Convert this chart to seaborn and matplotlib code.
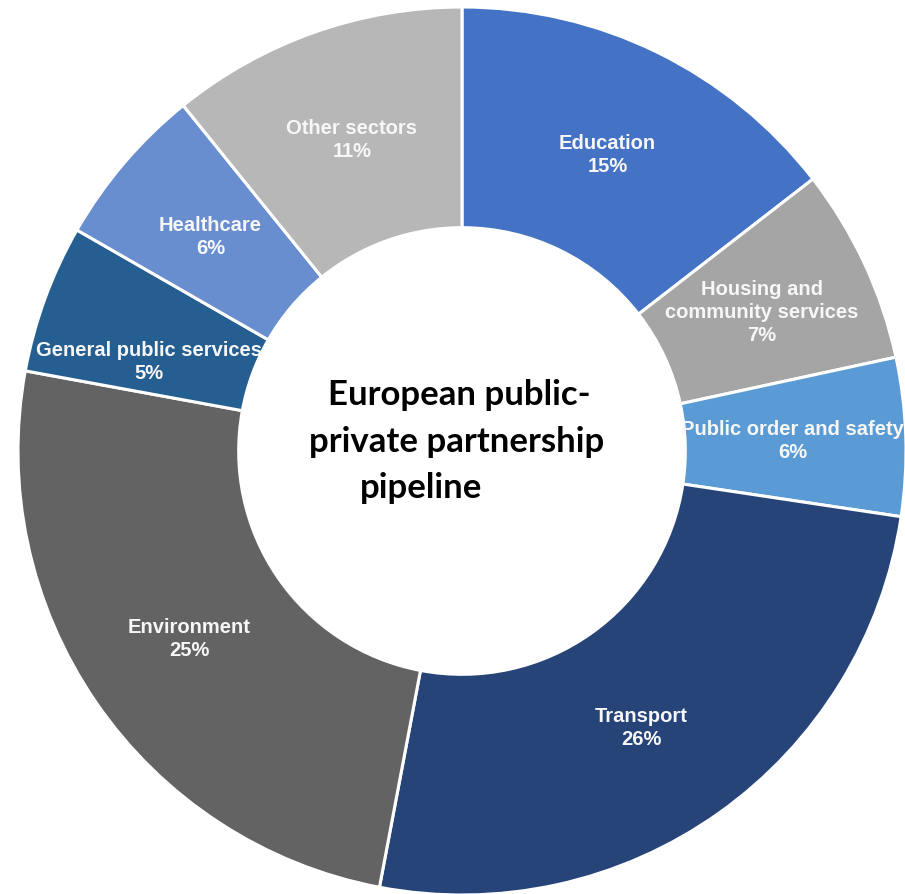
import matplotlib
matplotlib.use("Agg")
import matplotlib.pyplot as plt
import seaborn as sns
import numpy as np

# ---- data ----
sectors = ["Education", "Housing and\ncommunity services", "Public order and safety",
           "Transport", "Environment", "General public services", "Healthcare", "Other sectors"]
shares = [14.5, 7.1, 5.75, 25.6, 24.9, 5.4, 5.9, 10.8]          # measured arc shares
pct_labels = ["15%", "7%", "6%", "26%", "25%", "5%", "6%", "11%"]  # printed labels
colors = ["#4472C4", "#A5A5A5", "#5B9BD5", "#264478",
          "#636363", "#255E91", "#698ED0", "#B7B7B7"]
center_lines = ["European public-", "private partnership", "pipeline"]

sns.set_theme(style="white")
plt.rcParams["font.family"] = ["Liberation Sans", "DejaVu Sans"]

W, H = 905, 895
fig = plt.figure(figsize=(W / 100, H / 100), dpi=100)
ax = fig.add_axes([0, 0, 1, 1])

R = 444.0
cx, cy = 462.0, 452.0  # pixel centre (from top-left)

wedges, _ = ax.pie(shares, colors=sns.color_palette(colors), startangle=90, counterclock=False,
                   radius=1.0, wedgeprops=dict(width=0.497, edgecolor="white", linewidth=2.2))

# small label nudges (pixels, x right / y down) mimicking the original layout
nudge = {3: (-12, 6), 5: (-2, 24)}

for i, (w, name, pct) in enumerate(zip(wedges, sectors, pct_labels)):
    ang = np.deg2rad((w.theta1 + w.theta2) / 2)
    r = 0.745
    dx, dy = nudge.get(i, (0, 0))
    ax.text(r * np.cos(ang) + dx / R, r * np.sin(ang) - dy / R, f"{name}\n{pct}",
            ha="center", va="center", color="#F7F7F7", fontsize=14.5,
            fontweight="bold", linespacing=1.25)

ax.set_xlim(-cx / R, (W - cx) / R)
ax.set_ylim(-(H - cy) / R, cy / R)
ax.set_aspect("auto")
ax.axis("off")

cfont = ["Lato", "DejaVu Sans"]
fig.text(459 / W, 1 - 395 / H, center_lines[0], ha="center", va="center",
         fontsize=25, fontweight="bold", family=cfont, color="black")
fig.text(456.5 / W, 1 - 442 / H, center_lines[1], ha="center", va="center",
         fontsize=25, fontweight="bold", family=cfont, color="black")
fig.text(360 / W, 1 - 488 / H, center_lines[2], ha="left", va="center",
         fontsize=25, fontweight="bold", family=cfont, color="black")

fig.savefig("out.png", dpi=100, facecolor="white")
